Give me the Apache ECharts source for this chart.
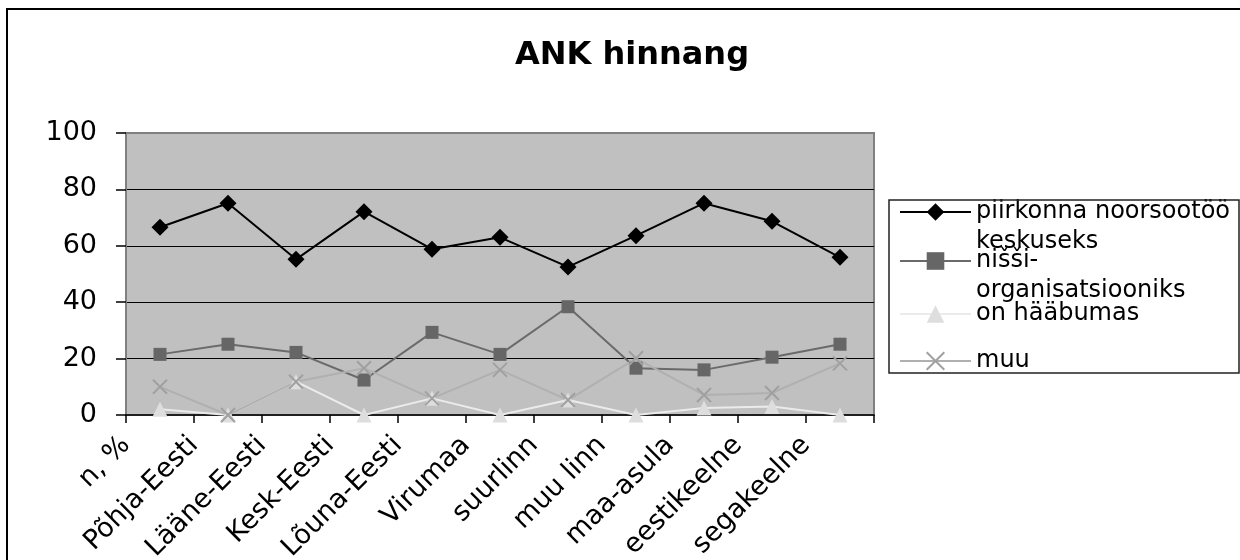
<!DOCTYPE html>
<html>
<head>
<meta charset="utf-8">
<script src="https://cdn.jsdelivr.net/npm/echarts@6/dist/echarts.min.js"></script>
<style>
html,body{margin:0;padding:0;background:#fff;}
#chart{width:1240px;height:560px;}
</style>
</head>
<body>
<div id="chart"></div>
<script>
// ---- data ----
const categories = ['n, %', 'Põhja-Eesti', 'Lääne-Eesti', 'Kesk-Eesti', 'Lõuna-Eesti', 'Virumaa', 'suurlinn', 'muu linn', 'maa-asula', 'eestikeelne', 'segakeelne'];
const seriesNames = ['piirkonna noorsootöö keskuseks', 'nišši-organisatsiooniks', 'on hääbumas', 'muu'];
const legendLabels = [' \npiirkonna noorsootöö\nkeskuseks', ' \nnišši-\norganisatsiooniks', 'on hääbumas', 'muu'];
const piirkonna = [66.6, 75.1, 55.2, 72.1, 58.8, 63.0, 52.5, 63.6, 75.1, 68.7, 55.9];
const nissi = [21.5, 25.1, 22.2, 12.4, 29.3, 21.5, 38.4, 16.6, 16.0, 20.5, 25.1];
const haabumas = [2.0, 0, 11.8, 0, 5.9, 0, 5.3, 0, 2.5, 3.0, 0];
const muu = [10.0, 0, 11.8, 16.6, 5.9, 16.0, 5.3, 20.1, 7.1, 7.8, 18.3];
const yMin = 0, yMax = 100, yStep = 20;

const FONT = 'DejaVu Sans';
const chart = echarts.init(document.getElementById('chart'), null, {renderer: 'canvas'});

const seriesData = [piirkonna, nissi, haabumas, muu];
const seriesStyle = [
  {symbol: 'diamond', size: 17, color: '#000000', line: '#000000', border: '#000000', bw: 0},
  {symbol: 'rect', size: 13, color: '#666666', line: '#6a6a6a', border: '#666666', bw: 0},
  {symbol: 'triangle', size: 15, color: '#dedede', line: '#ebebeb', border: '#dedede', bw: 0},
  {symbol: 'path://M0,0L10,10M10,0L0,10', size: 14, color: '#a8a8a8', line: '#b0b0b0', border: '#a0a0a0', bw: 2}
];
const legendTops = [167, 216, 299, 346];

const option = {
  backgroundColor: '#ffffff',
  animation: false,
  title: {
    text: 'ANK hinnang',
    left: 627,
    textAlign: 'center',
    top: 35,
    textStyle: {fontFamily: FONT, fontWeight: 'bold', fontSize: 32, color: '#000'}
  },
  grid: {
    left: 126, right: 366, top: 133, bottom: 145,
    outerBoundsMode: 'none',
    containLabel: false,
    show: true,
    backgroundColor: '#c0c0c0',
    borderColor: '#808080',
    borderWidth: 2
  },
  xAxis: [
    {
      type: 'category',
      data: categories,
      boundaryGap: true,
      position: 'bottom',
      axisLine: {show: true, lineStyle: {color: '#000', width: 1.5}},
      axisTick: {show: true, interval: 0, inside: false, length: 8, lineStyle: {color: '#000', width: 1.5}},
      axisLabel: {show: false, interval: 0},
      splitLine: {show: false}
    },
    {
      type: 'category',
      data: categories.concat(['']),
      boundaryGap: false,
      position: 'bottom',
      axisLine: {show: false},
      axisTick: {show: false},
      splitLine: {show: false},
      axisLabel: {
        show: true, interval: 0, rotate: 45, margin: 26,
        fontFamily: FONT, fontSize: 27, color: '#000'
      }
    }
  ],
  yAxis: {
    type: 'value',
    min: yMin, max: yMax, interval: yStep,
    axisLine: {show: true, lineStyle: {color: '#808080', width: 2}},
    axisTick: {show: true, inside: false, length: 10, lineStyle: {color: '#000', width: 1.5}},
    axisLabel: {margin: 29, fontFamily: FONT, fontSize: 27, color: '#000'},
    splitLine: {show: true, showMaxLine: false, showMinLine: false, lineStyle: {color: '#000', width: 1}}
  },
  legend: seriesNames.map((n, i) => ({
    data: [n],
    orient: 'vertical',
    left: 899,
    top: legendTops[i],
    padding: 0,
    itemWidth: 71,
    itemHeight: 22,
    selectedMode: false,
    formatter: () => legendLabels[i],
    textStyle: {fontFamily: FONT, fontSize: 24, lineHeight: 30, color: '#000'}
  })),
  graphic: [
    {type: 'rect', silent: true, z: 100, shape: {x: 7, y: 9, width: 1300, height: 700},
     style: {fill: 'none', stroke: '#000', lineWidth: 2}},
    {type: 'rect', silent: true, z: 100, shape: {x: 889, y: 200, width: 350, height: 173},
     style: {fill: 'none', stroke: '#222', lineWidth: 1.5}}
  ],
  series: seriesNames.map((n, i) => ({
    name: n,
    type: 'line',
    data: seriesData[i],
    symbol: seriesStyle[i].symbol,
    symbolSize: seriesStyle[i].size,
    showAllSymbol: true,
    lineStyle: {color: seriesStyle[i].line, width: 2},
    itemStyle: {color: seriesStyle[i].color, borderColor: seriesStyle[i].border, borderWidth: seriesStyle[i].bw},
    emphasis: {disabled: true}
  }))
};
chart.setOption(option);
</script>
</body>
</html>
